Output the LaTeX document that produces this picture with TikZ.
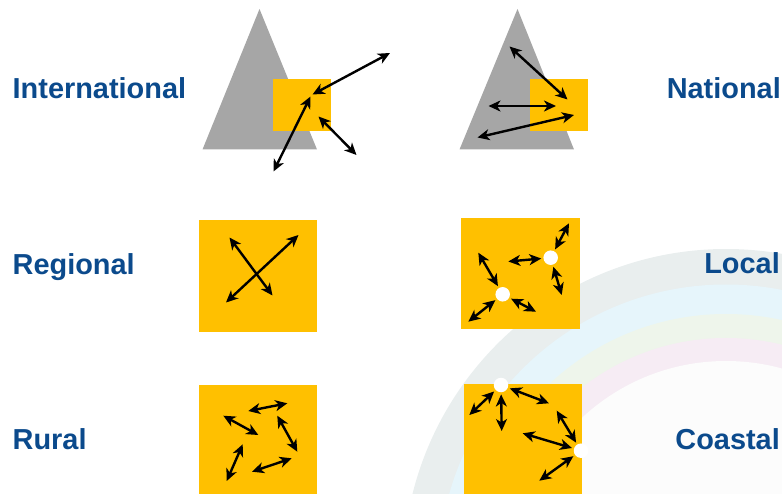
\documentclass[tikz,border=0pt]{standalone}
\usepackage{fontspec}
\setmainfont{Liberation Sans}
\usetikzlibrary{arrows.meta}
\definecolor{lblue}{HTML}{0B4A8C}
\definecolor{boxor}{HTML}{FFC000}
\definecolor{trigrey}{HTML}{A6A6A6}
\definecolor{arcgrey}{HTML}{E9EEEE}
\definecolor{arcblue}{HTML}{E6F5FB}
\definecolor{arcgreen}{HTML}{EEF5EB}
\definecolor{arcpink}{HTML}{F6ECF4}
\definecolor{arcin}{HTML}{FCFCFC}
\begin{document}
\begin{tikzpicture}[x=1pt,y=-1pt,
  lab/.style={text=lblue,font=\fontsize{28.9}{32}\selectfont\bfseries,inner sep=0pt},
  dbl/.style={line width=2.4pt,{Stealth[length=12pt,width=11pt,inset=3.5pt]}-{Stealth[length=12pt,width=11pt,inset=3.5pt]}},
  dot/.style={circle,fill=white,minimum size=14.5pt,inner sep=0pt},
  fromdot/.style={dbl,shorten <=2pt},
  tri/.style={fill=trigrey},
  sq/.style={fill=boxor}]
\useasboundingbox (0,0) rectangle (782,494);
% background rainbow arcs
\begin{scope}
  \clip (0,0) rectangle (782,494);
  \fill[arcgrey]  (726,572) circle (323pt);
  \fill[arcblue]  (726,572) circle (287.5pt);
  \fill[arcgreen] (726,572) circle (258pt);
  \fill[arcpink]  (726,572) circle (234pt);
  \fill[arcin]    (726,572) circle (211pt);
\end{scope}
% labels
\node[lab,anchor=base west] (tInt) at (12.5,98.5) {International};
\node[lab,anchor=base east] (tNat) at (781,98.5) {National};
\node[lab,anchor=base west] (tReg) at (12.5,274.5) {Regional};
\node[lab,anchor=base east] (tLoc) at (780,274) {Local};
\node[lab,anchor=base west] (tRur) at (12.5,449.5) {Rural};
\node[lab,anchor=base east] (tCoa) at (780,449.5) {Coastal};
% International
\fill[tri] (259.5,9) -- (317,149.5) -- (202.5,149.5) -- cycle;
\fill[sq] (273,79) rectangle (331,131);
\coordinate (ia) at (312.5,94.5);
\coordinate (ib) at (390,53);
\coordinate (ic) at (310.5,96.5);
\coordinate (id) at (273.5,171.5);
\coordinate (ie) at (318.5,116.5);
\coordinate (if) at (356.5,155);
\draw[dbl] (ia) -- (ib);
\draw[dbl] (ic) -- (id);
\draw[dbl] (ie) -- (if);
% National
\fill[tri] (517.5,9) -- (574,149.5) -- (459.5,149.5) -- cycle;
\fill[sq] (530,79) rectangle (588,131);
\coordinate (na) at (509.5,46.5);
\coordinate (nb) at (567.5,99.5);
\coordinate (nc) at (488.5,106);
\coordinate (nd) at (556,106);
\coordinate (ne) at (477.5,137.5);
\coordinate (nf) at (574,115);
\draw[dbl] (na) -- (nb);
\draw[dbl] (nc) -- (nd);
\draw[dbl] (ne) -- (nf);
% Regional
\fill[sq] (199,220) rectangle (317,332);
\coordinate (ra) at (229.5,237.5);
\coordinate (rb) at (272.5,295.5);
\coordinate (rc) at (226,302.5);
\coordinate (rd) at (298.5,235);
\draw[dbl] (ra) -- (rb);
\draw[dbl] (rc) -- (rd);
% Local
\fill[sq] (461,218) rectangle (579.5,329.5);
\node[dot] (l1) at (550.7,257.7) {};
\node[dot] (l2) at (502.7,294.3) {};
\coordinate (l1a) at (569,223.3);
\coordinate (l1b) at (508.3,261.5);
\coordinate (l1c) at (561.7,295);
\coordinate (l2a) at (478.3,252.7);
\coordinate (l2b) at (468.3,321.7);
\coordinate (l2c) at (536,311.7);
\draw[fromdot] (l1) -- (l1a);
\draw[fromdot] (l1) -- (l1b);
\draw[fromdot] (l1) -- (l1c);
\draw[fromdot] (l2) -- (l2a);
\draw[fromdot] (l2) -- (l2b);
\draw[fromdot] (l2) -- (l2c);
% Rural
\fill[sq] (199,384.5) rectangle (317,494);
\coordinate (ua) at (248.3,411);
\coordinate (ub) at (287.3,403.3);
\coordinate (uc) at (223.3,415.7);
\coordinate (ud) at (258.3,435);
\coordinate (ue) at (277.3,415.7);
\coordinate (uf) at (297.3,451.7);
\coordinate (ug) at (242.7,444.3);
\coordinate (uh) at (226.7,481);
\coordinate (ui) at (252,471.7);
\coordinate (uj) at (291.7,458.3);
\draw[dbl] (ua) -- (ub);
\draw[dbl] (uc) -- (ud);
\draw[dbl] (ue) -- (uf);
\draw[dbl] (ug) -- (uh);
\draw[dbl] (ui) -- (uj);
% Coastal
\fill[sq] (464,384) rectangle (582.3,494);
\node[dot] (c1) at (501,385) {};
\node[dot] (c2) at (581,450.7) {};
\coordinate (c1a) at (469.3,415);
\coordinate (c1b) at (501.7,431);
\coordinate (c1c) at (549,403.3);
\coordinate (c2a) at (556.7,410.7);
\coordinate (c2b) at (522.7,433.3);
\coordinate (c2c) at (539.3,480.7);
\draw[fromdot] (c1) -- (c1a);
\draw[fromdot] (c1) -- (c1b);
\draw[fromdot] (c1) -- (c1c);
\draw[fromdot] (c2) -- (c2a);
\draw[fromdot] (c2) -- (c2b);
\draw[fromdot] (c2) -- (c2c);
\end{tikzpicture}
\end{document}
